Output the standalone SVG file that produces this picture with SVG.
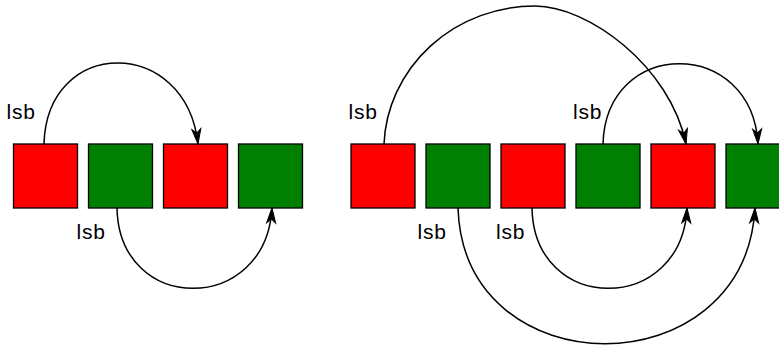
<svg xmlns="http://www.w3.org/2000/svg" width="779" height="347" viewBox="0 0 779 347">
  <style>
    .red { fill: #ff0000; stroke: #000; stroke-width: 1.3; }
    .green { fill: #008000; stroke: #000; stroke-width: 1.3; }
    .edge { fill: none; stroke: #000; stroke-width: 1.5; marker-end: url(#arrow); }
    .lbl { font-family: "Liberation Sans", Arial, Helvetica, sans-serif; font-size: 21px; fill: #000; letter-spacing: 0.8px; }
  </style>
  <defs>
    <marker id="arrow" markerUnits="userSpaceOnUse" viewBox="-17 -6 18 12" markerWidth="18" markerHeight="12" refX="0" refY="0" orient="auto">
      <path d="M0,0 L-15,-4.5 L-11,0 L-15,4.5 Z" fill="#000" stroke="#000" stroke-width="1" stroke-linejoin="miter"/>
    </marker>
  </defs>
  <rect width="779" height="347" fill="#fff"/>

  <g id="left-a"><rect class="red" x="13.5" y="144" width="64" height="64"/></g>
  <g id="left-b"><rect class="green" x="88.5" y="144" width="64" height="64"/></g>
  <g id="left-c"><rect class="red" x="163.5" y="144" width="64" height="64"/></g>
  <g id="left-d"><rect class="green" x="238.5" y="144" width="64" height="64"/></g>

  <g id="right-a"><rect class="red" x="351" y="144" width="64" height="64"/></g>
  <g id="right-b"><rect class="green" x="426" y="144" width="64" height="64"/></g>
  <g id="right-c"><rect class="red" x="501" y="144" width="64" height="64"/></g>
  <g id="right-d"><rect class="green" x="576" y="144" width="64" height="64"/></g>
  <g id="right-e"><rect class="red" x="651" y="144" width="64" height="64"/></g>
  <g id="right-f"><rect class="green" x="726" y="144" width="64" height="64"/></g>

  <g id="connectors">
    <path class="edge" d="M44 144 C47 36, 186 36, 198 144"/>
    <path class="edge" d="M117 208 C119 315, 266 315, 272 208"/>
    <path class="edge" d="M384 144 A151.13 144 0 0 1 535 6 C588 6, 670 66, 686 144"/>
    <path class="edge" d="M603 144 C606 37, 752 37, 758 144"/>
    <path class="edge" d="M532 208 C534 315, 682 315, 687 208"/>
    <path class="edge" d="M458 208 C464 389, 745 389, 755 208"/>
  </g>

  <g id="labels">
    <text class="lbl" x="6.6" y="119">lsb</text>
    <text class="lbl" x="76.6" y="239">lsb</text>
    <text class="lbl" x="348.6" y="119">lsb</text>
    <text class="lbl" x="573" y="119">lsb</text>
    <text class="lbl" x="417.6" y="238.5">lsb</text>
    <text class="lbl" x="496" y="238.5">lsb</text>
  </g>
</svg>
